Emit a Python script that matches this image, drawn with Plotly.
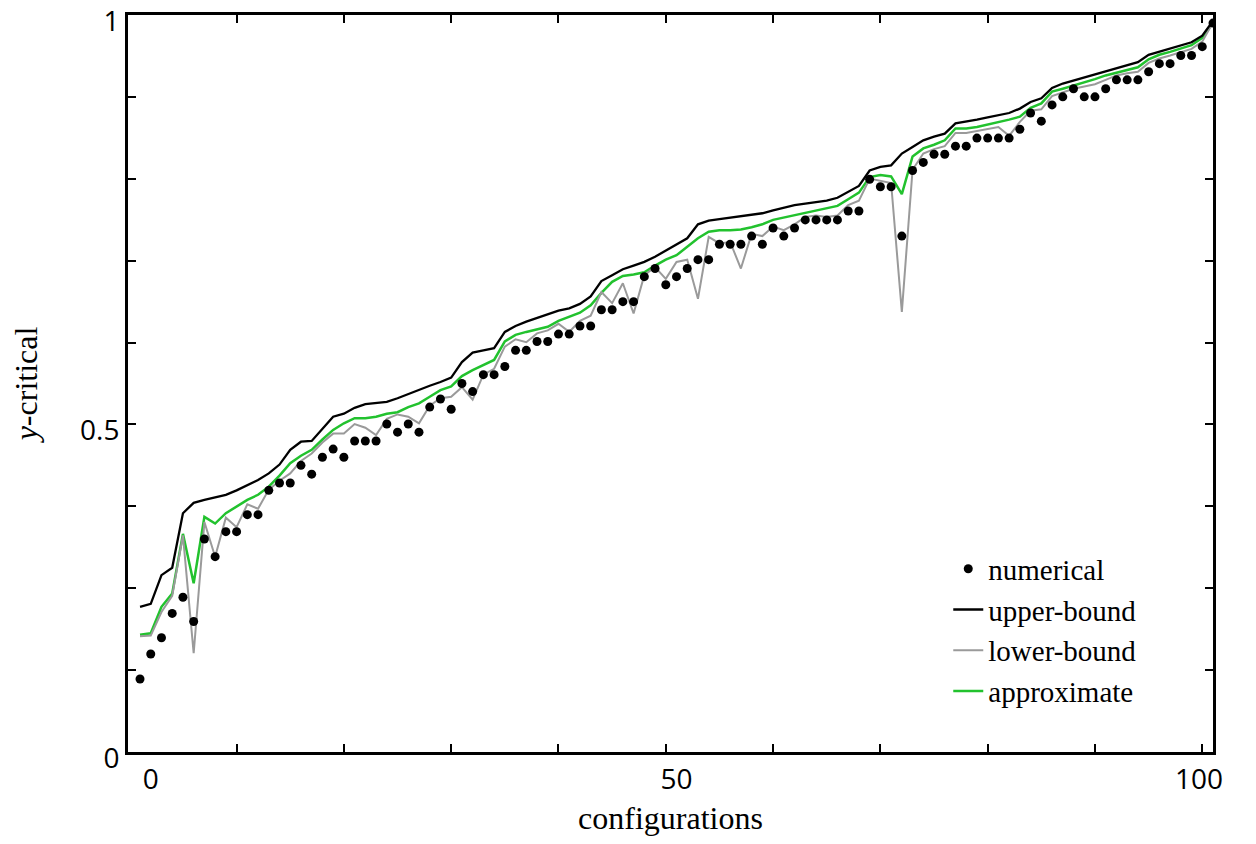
import plotly.graph_objects as go

# ---- data ----
configurations = list(range(101))

numerical = [
    0.099, 0.133, 0.155, 0.188, 0.210, 0.177, 0.289, 0.265, 0.299, 0.299,
    0.322, 0.322, 0.355, 0.365, 0.365, 0.389, 0.377, 0.400, 0.411, 0.400,
    0.422, 0.422, 0.422, 0.445, 0.434, 0.445, 0.434, 0.468, 0.479, 0.465,
    0.500, 0.489, 0.512, 0.512, 0.523, 0.545, 0.545, 0.557, 0.557, 0.567,
    0.567, 0.578, 0.578, 0.600, 0.600, 0.611, 0.611, 0.645, 0.656, 0.634,
    0.645, 0.656, 0.668, 0.668, 0.689, 0.689, 0.689, 0.700, 0.689, 0.711,
    0.700, 0.711, 0.722, 0.722, 0.722, 0.722, 0.734, 0.734, 0.777, 0.767,
    0.767, 0.700, 0.789, 0.800, 0.811, 0.811, 0.822, 0.822, 0.833, 0.833,
    0.833, 0.833, 0.845, 0.867, 0.856, 0.878, 0.889, 0.900, 0.889, 0.889,
    0.900, 0.912, 0.912, 0.912, 0.923, 0.934, 0.934, 0.945, 0.945, 0.957,
    0.989,
]

upper_bound = [
    0.197, 0.201, 0.240, 0.250, 0.324, 0.338, 0.342, 0.346, 0.349, 0.355,
    0.362, 0.369, 0.378, 0.390, 0.410, 0.421, 0.422, 0.438, 0.455, 0.459,
    0.467, 0.472, 0.474, 0.475, 0.480, 0.486, 0.492, 0.497, 0.502, 0.508,
    0.529, 0.542, 0.545, 0.548, 0.570, 0.578, 0.584, 0.589, 0.594, 0.599,
    0.602, 0.608, 0.618, 0.639, 0.647, 0.655, 0.660, 0.665, 0.672, 0.680,
    0.688, 0.697, 0.716, 0.721, 0.723, 0.725, 0.726, 0.728, 0.731, 0.735,
    0.739, 0.742, 0.744, 0.746, 0.748, 0.752, 0.760, 0.768, 0.789, 0.794,
    0.796, 0.812, 0.821, 0.830, 0.835, 0.839, 0.853, 0.855, 0.858, 0.861,
    0.864, 0.867, 0.873, 0.882, 0.887, 0.901, 0.907, 0.911, 0.916, 0.920,
    0.924, 0.928, 0.932, 0.936, 0.946, 0.950, 0.955, 0.959, 0.963, 0.972,
    0.992,
]

lower_bound = [
    0.157, 0.158, 0.190, 0.212, 0.294, 0.134, 0.312, 0.265, 0.318, 0.305,
    0.336, 0.330, 0.356, 0.368, 0.378, 0.395, 0.405, 0.420, 0.432, 0.432,
    0.445, 0.440, 0.430, 0.452, 0.458, 0.455, 0.446, 0.470, 0.480, 0.482,
    0.495, 0.478, 0.512, 0.520, 0.550, 0.560, 0.556, 0.568, 0.572, 0.581,
    0.570, 0.585, 0.592, 0.624, 0.609, 0.636, 0.595, 0.647, 0.658, 0.642,
    0.665, 0.668, 0.615, 0.699, 0.690, 0.692, 0.656, 0.703, 0.700, 0.713,
    0.708, 0.716, 0.726, 0.728, 0.726, 0.728, 0.742, 0.748, 0.778, 0.775,
    0.772, 0.597, 0.790, 0.812, 0.818, 0.822, 0.840, 0.840, 0.843, 0.846,
    0.848, 0.836, 0.855, 0.870, 0.872, 0.890, 0.895, 0.900, 0.903, 0.906,
    0.912, 0.918, 0.921, 0.923, 0.935, 0.941, 0.945, 0.950, 0.954, 0.964,
    0.990,
]

approximate = [
    0.159, 0.161, 0.197, 0.215, 0.296, 0.229, 0.319, 0.310, 0.324, 0.333,
    0.342, 0.349, 0.360, 0.375, 0.392, 0.402, 0.410, 0.424, 0.437, 0.446,
    0.453, 0.453, 0.455, 0.459, 0.461, 0.468, 0.473, 0.482, 0.491, 0.496,
    0.510, 0.518, 0.525, 0.532, 0.557, 0.566, 0.570, 0.573, 0.577, 0.585,
    0.590, 0.596, 0.606, 0.623, 0.638, 0.646, 0.648, 0.651, 0.660, 0.668,
    0.674, 0.686, 0.697, 0.706, 0.708, 0.708, 0.709, 0.712, 0.716, 0.722,
    0.725, 0.729, 0.732, 0.735, 0.738, 0.741, 0.750, 0.759, 0.780, 0.783,
    0.781, 0.757, 0.808, 0.819, 0.824, 0.830, 0.846, 0.846, 0.848, 0.851,
    0.854, 0.858, 0.862, 0.874, 0.880, 0.896, 0.900, 0.904, 0.909, 0.913,
    0.918, 0.922, 0.926, 0.929, 0.940, 0.946, 0.950, 0.954, 0.959, 0.969,
    0.990,
]

# axis ticks / labels as they appear in the reference
x_label_pos = [1, 50, 98.7]
x_label_text = ["0", "50", "100"]
x_tick_marks = [9, 19, 29, 39, 49, 59, 69, 79, 89, 99]
y_tick_pos = [k / 9 for k in range(10)]
y_tick_text = ["0", "", "", "", "0.5", "", "", "", "", "1"]

SERIF = "Liberation Serif, Times New Roman, serif"
SANS = "Open Sans, Liberation Sans, sans-serif"

fig = go.Figure()
fig.add_trace(go.Scatter(x=configurations, y=approximate, mode="lines",
                         name="approximate", legendrank=4,
                         line=dict(color="#22c22e", width=2.5)))
fig.add_trace(go.Scatter(x=configurations, y=lower_bound, mode="lines",
                         name="lower-bound", legendrank=3,
                         line=dict(color="#9a9a9a", width=2)))
fig.add_trace(go.Scatter(x=configurations, y=upper_bound, mode="lines",
                         name="upper-bound", legendrank=2,
                         line=dict(color="#000000", width=2.3)))
fig.add_trace(go.Scatter(x=configurations, y=numerical, mode="markers",
                         name="numerical", legendrank=1,
                         marker=dict(color="#000000", size=9)))

# page body has an 8px margin; figure sized so the plot area lands at
# x 128..1213, y 15..752 of the window
fig.update_layout(
    width=1240, height=828,
    margin=dict(l=120, r=35, t=7, b=84, autoexpand=False),
    paper_bgcolor="white", plot_bgcolor="white",
    showlegend=True,
    legend=dict(x=0.756, y=0.283, xanchor="left", yanchor="top",
                bgcolor="rgba(0,0,0,0)", font=dict(family=SERIF, size=29, color="black"),
                itemwidth=30),
)
fig.update_xaxes(
    range=[-1.12, 100.0], showgrid=False, zeroline=False, automargin=False,
    showline=True, linecolor="black", linewidth=3, mirror="ticks",
    tickmode="array", tickvals=x_label_pos, ticktext=x_label_text, ticks="",
    tickfont=dict(family=SANS, size=28, color="black"),
    ticklabeloverflow="allow",
    minor=dict(tickmode="array", tickvals=x_tick_marks, ticks="inside",
               ticklen=8, tickwidth=1.5, tickcolor="black"),
    title=dict(text="configurations", font=dict(family=SERIF, size=32, color="black"),
               standoff=16),
)
fig.update_yaxes(
    range=[0, 1], showgrid=False, zeroline=False, automargin=False,
    showline=True, linecolor="black", linewidth=3, mirror="ticks",
    tickmode="array", tickvals=y_tick_pos, ticktext=y_tick_text,
    ticks="inside", ticklen=8, tickwidth=1.5, tickcolor="black",
    tickfont=dict(family=SANS, size=28, color="black"),
    ticklabeloverflow="allow", ticklabelshift=6,
    title=dict(text="<i>y</i>-critical", font=dict(family=SERIF, size=32, color="black"),
               standoff=33),
)

fig.write_html("out.html")
